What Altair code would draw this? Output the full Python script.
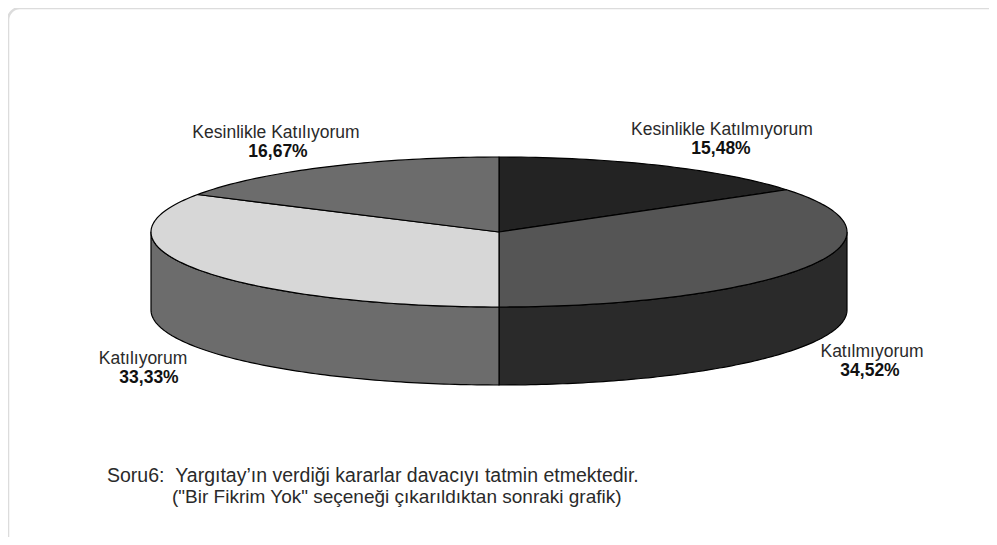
import math
import altair as alt
import pandas as pd

# ---- values ----
categories = ["Kesinlikle Katılmıyorum", "Katılmıyorum", "Katılıyorum", "Kesinlikle Katılıyorum"]
shares = [15.48, 34.52, 33.33, 16.67]
share_labels = ["15,48%", "34,52%", "33,33%", "16,67%"]
top_colors = ["#232323", "#555555", "#d7d7d7", "#6c6c6c"]
wall_colors = ["#2a2a2a", "#2a2a2a", "#6c6c6c", "#6c6c6c"]
name_px = [(722, 130), (872, 351.5), (143, 359), (276, 133)]
share_px = [(721, 149), (870, 370.5), (149, 378), (278, 152)]
note_line_1 = "Soru6:\u00a0\u00a0Yargıtay’ın verdiği kararlar davacıyı tatmin etmektedir."
note_line_2 = "(\"Bir Fikrim Yok\" seçeneği çıkarıldıktan sonraki grafik)"
note_px = [(107, 476), (172, 496.5)]

# ---- pie geometry (pixels of the picture) ----
W, H, LEFT, TOP = 981, 529, 8, 8
cx, cy, rx, ry, depth = 499.0, 232.0, 348.0, 75.0, 78.0
depth_u = depth / ry

top_rows, wall_rows = [], []
a0 = 0.0
for name, share in zip(categories, shares):
    a1 = a0 + share / 100 * 2 * math.pi
    steps = max(8, int(share * 3))
    arc = [a0 + (a1 - a0) * i / steps for i in range(steps + 1)]
    pts = [(0.0, 0.0)] + [(math.sin(a), math.cos(a)) for a in arc] + [(0.0, 0.0)]
    for i, (x, y) in enumerate(pts):
        top_rows.append(dict(piece=name, i=i, x=x, y=y))
    lo, hi = max(a0, math.pi / 2), min(a1, 3 * math.pi / 2)
    if hi > lo:
        wall = [lo + (hi - lo) * i / steps for i in range(steps + 1)]
        up = [(math.sin(a), math.cos(a)) for a in wall]
        down = [(x, y - depth_u) for x, y in reversed(up)]
        for i, (x, y) in enumerate(up + down + [up[0]]):
            wall_rows.append(dict(piece=name, i=i, x=x, y=y))
    a0 = a1

xs = alt.Scale(domain=[(LEFT - cx) / rx, (LEFT + W - cx) / rx], nice=False, zero=False)
ys = alt.Scale(domain=[(cy - TOP - H) / ry, (cy - TOP) / ry], nice=False, zero=False)


def polygons(rows, colors):
    return (
        alt.Chart(pd.DataFrame(rows))
        .mark_line(stroke="#000000", strokeWidth=1.2, strokeJoin="round", clip=False)
        .encode(
            x=alt.X("x:Q", scale=xs, axis=None),
            y=alt.Y("y:Q", scale=ys, axis=None),
            fill=alt.Fill("piece:N", scale=alt.Scale(domain=categories, range=colors), legend=None),
            detail="piece:N",
            order="i:Q",
        )
    )


def texts(labels, pos, size, weight, color, align="center"):
    df = pd.DataFrame({"t": labels, "px": [p[0] - LEFT for p in pos], "py": [p[1] - TOP for p in pos]})
    return (
        alt.Chart(df)
        .mark_text(font="Liberation Sans", fontSize=size, fontWeight=weight, color=color, align=align, baseline="middle")
        .encode(
            x=alt.X("px:Q", scale=alt.Scale(domain=[0, W], range=[0, W]), axis=None),
            y=alt.Y("py:Q", scale=alt.Scale(domain=[0, H], range=[0, H]), axis=None),
            text="t:N",
        )
    )


# rounded card: its right and bottom sides lie outside the picture, as in the reference
card = alt.Chart(pd.DataFrame({"k": [0]})).mark_rect(
    filled=False, stroke="#dcdcdc", strokeWidth=2.5, cornerRadius=12
).encode(
    x=alt.value(0), x2=alt.value(W + 12), y=alt.value(0), y2=alt.value(H + 12)
)

chart = (
    alt.layer(
        card,
        polygons(wall_rows, wall_colors),
        polygons(top_rows, top_colors),
        texts(categories, name_px, 17.5, "normal", "#2a2a2a"),
        texts(share_labels, share_px, 17.5, "bold", "#111111"),
        texts([note_line_1], note_px[:1], 19.5, "normal", "#2a2a2a", align="left"),
        texts([note_line_2], note_px[1:], 19, "normal", "#2a2a2a", align="left"),
    )
    .resolve_scale(x="independent", y="independent", fill="independent")
    .properties(width=W, height=H, padding=0, autosize=alt.AutoSizeParams(type="none"), background="white")
    .configure_view(stroke=None, fill="white")
)

chart.save("out.html", embed_options={"renderer": "svg", "actions": False})
